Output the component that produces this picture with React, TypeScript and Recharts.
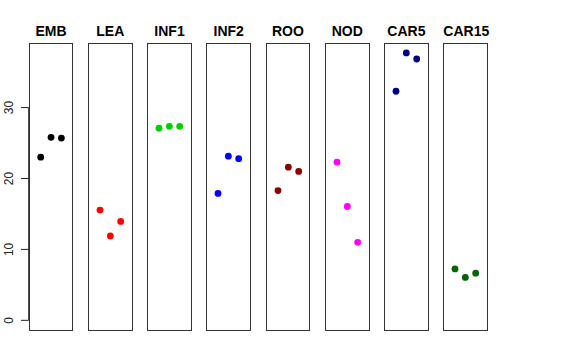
import { ScatterChart, Scatter, XAxis, YAxis, ReferenceLine } from 'recharts';

// tissue panels, left to right
const tissues = ['EMB', 'LEA', 'INF1', 'INF2', 'ROO', 'NOD', 'CAR5', 'CAR15'];
const tissueColors = ['#000000', '#ff0000', '#00cd00', '#0000ff', '#8b0000', '#ff00ff', '#000080', '#006400'];

// three replicates per tissue
const repEMB = [23.0, 25.8, 25.7];
const repLEA = [15.55, 11.9, 13.95];
const repINF1 = [27.1, 27.35, 27.35];
const repINF2 = [17.9, 23.15, 22.8];
const repROO = [18.3, 21.6, 21.0];
const repNOD = [22.3, 16.05, 11.0];
const repCAR5 = [32.3, 37.7, 36.85];
const repCAR15 = [7.25, 6.05, 6.65];

const replicates = [repEMB, repLEA, repINF1, repINF2, repROO, repNOD, repCAR5, repCAR15];
const yTicks = [0, 10, 20, 30];

const Y_DOMAIN: [number, number] = [-1.5, 39.1];
const X_DOMAIN: [number, number] = [-0.16, 4.16];
const PANEL_TOP = 43;
const PANEL_H = 288;
const PANEL_W = 44.7;
const PANEL_LEFT = 28.7;
const PANEL_STEP = 59.23;
const FONT = '"Liberation Sans", Arial, Helvetica, sans-serif';

const RotatedTick = (props: { x?: number; y?: number; payload?: { value: number } }) => {
  const { y, payload } = props;
  if (y === undefined || !payload) return null;
  return (
    <g>
      <line x1={21} x2={28.7} y1={y} y2={y} stroke="#222" strokeWidth={1} />
      <text
        x={13.5}
        y={y}
        transform={`rotate(-90, 13.5, ${y})`}
        textAnchor="middle"
        fontSize={12}
        fill="#222"
        fontFamily={FONT}
      >
        {payload.value}
      </text>
    </g>
  );
};

const Panel = ({ idx }: { idx: number }) => {
  const data = replicates[idx].map((v, j) => ({ x: j + 1, y: v }));
  const left = PANEL_LEFT + PANEL_STEP * idx;
  const withAxis = idx === 0;
  const chartLeft = withAxis ? 0 : left;
  return (
    <>
      <div
        style={{
          position: 'absolute',
          left,
          width: PANEL_W,
          top: 23,
          textAlign: 'center',
          fontWeight: 'bold',
          fontSize: 14,
          fontFamily: FONT,
          color: '#000',
        }}
      >
        {tissues[idx]}
      </div>
      <div
        style={{
          position: 'absolute',
          left,
          top: PANEL_TOP,
          width: PANEL_W,
          height: PANEL_H,
          border: '1px solid #333',
          boxSizing: 'border-box',
        }}
      />
      <div style={{ position: 'absolute', left: chartLeft, top: PANEL_TOP }}>
        <ScatterChart
          width={withAxis ? PANEL_LEFT + PANEL_W : PANEL_W}
          height={PANEL_H}
          margin={{ top: 0, right: 0, bottom: 0, left: 0 }}
        >
          <XAxis type="number" dataKey="x" domain={X_DOMAIN} hide />
          {withAxis ? (
            <YAxis
              type="number"
              dataKey="y"
              domain={Y_DOMAIN}
              ticks={yTicks}
              width={PANEL_LEFT}
              axisLine={false}
              tickLine={false}
              tick={RotatedTick}
            />
          ) : (
            <YAxis type="number" dataKey="y" domain={Y_DOMAIN} hide />
          )}
          {withAxis && (
            <ReferenceLine
              segment={[
                { x: X_DOMAIN[0], y: yTicks[0] },
                { x: X_DOMAIN[0], y: yTicks[yTicks.length - 1] },
              ]}
              stroke="#222"
              strokeWidth={1}
              ifOverflow="visible"
            />
          )}
          <Scatter
            data={data}
            fill={tissueColors[idx]}
            shape={(p: { cx?: number; cy?: number }) => (
              <circle cx={p.cx} cy={p.cy} r={3.4} fill={tissueColors[idx]} />
            )}
            isAnimationActive={false}
          />
        </ScatterChart>
      </div>
    </>
  );
};

export default function App() {
  return (
    <div
      style={{
        position: 'absolute',
        left: 0,
        top: 0,
        width: 576,
        height: 360,
        background: '#fff',
        overflow: 'hidden',
      }}
    >
      {tissues.map((_, i) => (
        <Panel key={i} idx={i} />
      ))}
    </div>
  );
}
